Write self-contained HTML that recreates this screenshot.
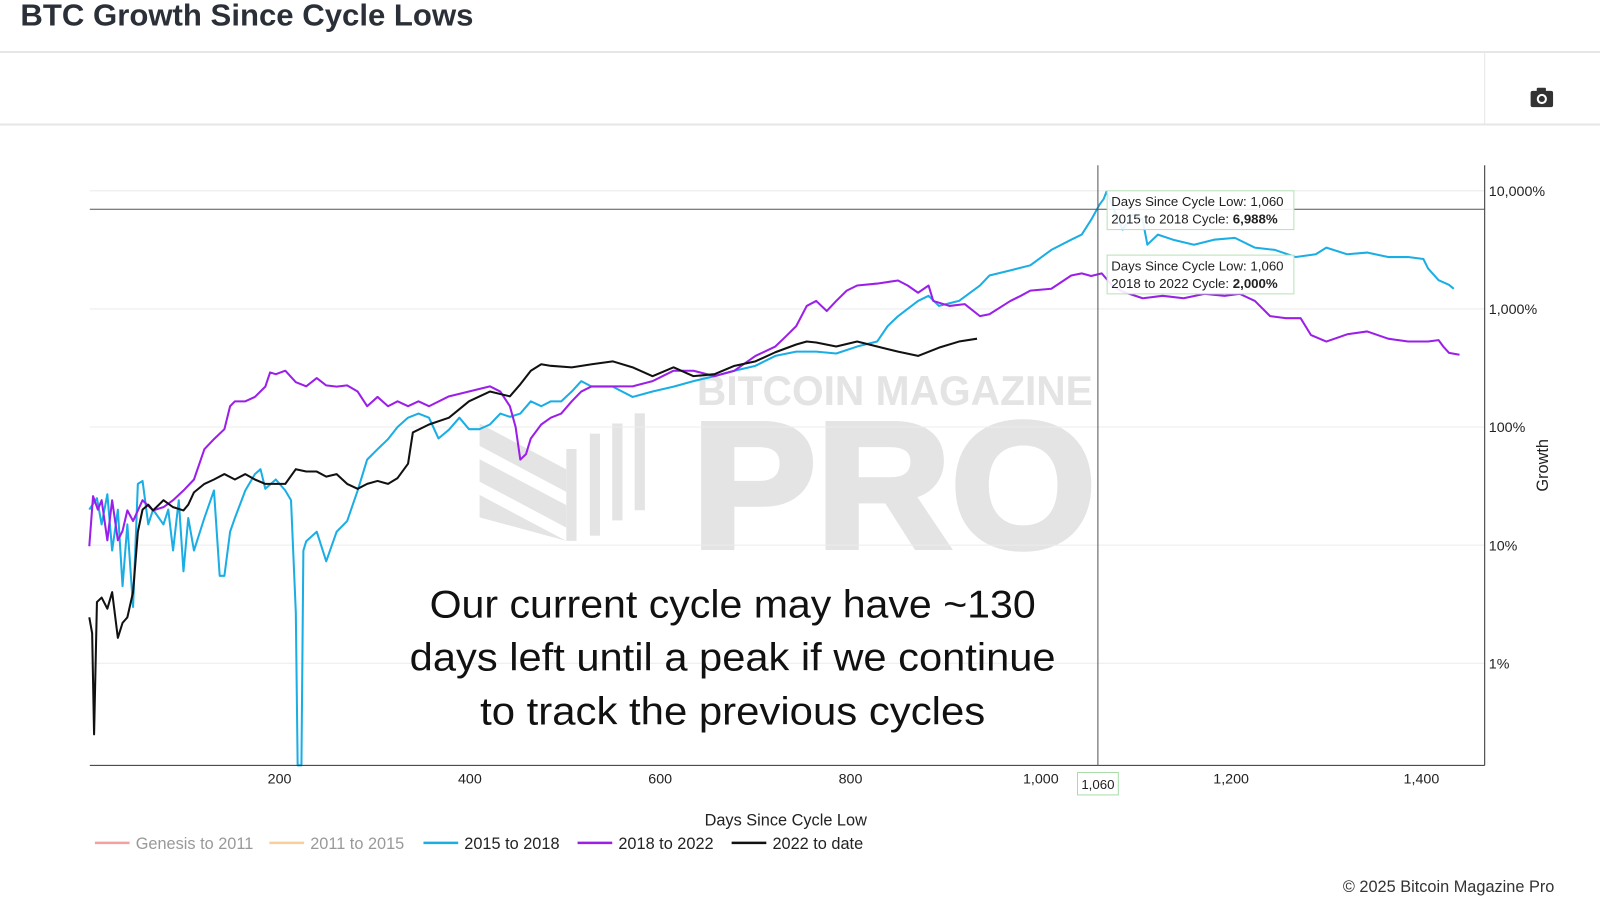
<!DOCTYPE html>
<html><head><meta charset="utf-8"><style>
body{margin:0;background:#fff;width:1600px;height:899px;overflow:hidden;font-family:"Liberation Sans",sans-serif}
</style></head><body>
<svg id="s" width="1600" height="899" viewBox="0 0 1568 881" preserveAspectRatio="none" xmlns="http://www.w3.org/2000/svg" style="position:absolute;left:0;top:0" font-family="Liberation Sans, sans-serif">
<text x="20" y="25" font-size="30" font-weight="bold" fill="#2b3038" textLength="444" lengthAdjust="spacingAndGlyphs">BTC Growth Since Cycle Lows</text>
<line x1="0" y1="51" x2="1568" y2="51" stroke="#e6e6e6" stroke-width="2"/>
<line x1="0" y1="122" x2="1568" y2="122" stroke="#e6e6e6" stroke-width="2"/>
<line x1="1455" y1="51" x2="1455" y2="122" stroke="#e6e6e6" stroke-width="1"/>
<g fill="#333">
<rect x="1500" y="89" width="22" height="16" rx="2"/><rect x="1506" y="86" width="9" height="5" rx="1"/>
<circle cx="1511" cy="97" r="5" fill="#fff"/><circle cx="1511" cy="97" r="3"/>
</g>
<g fill="#e4e4e4">
<text x="683" y="397" font-size="41" font-weight="bold" textLength="388" lengthAdjust="spacingAndGlyphs">BITCOIN MAGAZINE</text>
<text x="678" y="536" font-size="175" font-weight="bold" textLength="396" lengthAdjust="spacingAndGlyphs" stroke="#e4e4e4" stroke-width="6">PRO</text>
<polygon points="470,415 555,460 555,482 470,437"/><polygon points="470,450 555,495 555,517 470,472"/><polygon points="470,485 555,530 555,530 470,507"/>
<rect x="555" y="440" width="10" height="90"/><rect x="578" y="425" width="10" height="100"/><rect x="600" y="415" width="10" height="95"/><rect x="622" y="405" width="10" height="95"/>
</g>
<g id="grid"></g>
<g id="series"></g>
<g id="axes"></g>
<g font-size="38" fill="#111" text-anchor="middle">
<text x="718" y="605" textLength="594" lengthAdjust="spacingAndGlyphs">Our current cycle may have ~130</text>
<text x="718" y="657" textLength="633" lengthAdjust="spacingAndGlyphs">days left until a peak if we continue</text>
<text x="718" y="710" textLength="495" lengthAdjust="spacingAndGlyphs">to track the previous cycles</text>
</g>
<text x="770" y="809" font-size="16" fill="#222" text-anchor="middle">Days Since Cycle Low</text>
<text transform="translate(1517,456) rotate(-90)" font-size="16" fill="#222" text-anchor="middle">Growth</text>
<g id="legend" font-size="16"></g>
<text x="1316" y="874" font-size="16" fill="#333">© 2025 Bitcoin Magazine Pro</text>
</svg>
<script>
const cyanDays=[0,8,13,19,24,30,35,40,46,51,56,62,67,78,83,88,94,99,104,110,121,131,137,142,148,153,164,174,180,185,196,206,212,217,219,223,225,228,239,249,260,271,282,292,303,314,324,335,346,357,367,378,389,399,410,421,432,442,453,464,475,485,496,507,517,528,550,571,592,614,635,657,678,700,721,743,764,785,807,828,839,850,871,882,893,914,936,946,968,989,1011,1032,1043,1053,1062,1066,1069,1086,1096,1107,1112,1123,1139,1161,1182,1204,1225,1246,1268,1289,1300,1322,1343,1365,1386,1402,1407,1418,1429,1434];
const cyanVals=[20,25,15,27,9,20,4.5,15,3,33,35,15,20,15,20,9,24,6,17,9,17,29,5.5,5.5,13,17,29,40,44,30,36,29,24,2.7,0.1,0.1,9,10.8,13,7.3,13,16,29,53,65,79,100,120,130,120,80,95,120,96,96,105,130,122,130,165,150,165,165,200,245,220,220,180,200,220,245,270,300,330,400,435,435,420,480,530,715,870,1170,1290,1060,1170,1580,1920,2120,2340,3160,3860,4260,5700,7700,8500,9800,4700,6300,5700,3500,4260,3860,3500,3860,4000,3300,3160,2750,2900,3300,2900,3000,2750,2750,2650,2200,1750,1600,1480];
const purpleDays=[0,4,9,13,19,24,30,35,40,46,56,67,78,88,99,110,121,131,142,148,153,164,174,185,190,196,206,217,228,239,249,260,271,282,292,303,314,324,335,346,357,378,399,421,432,442,448,453,459,464,475,485,496,507,517,528,550,571,592,614,635,657,678,700,721,732,743,754,764,775,785,796,807,828,850,860,871,882,887,904,920,936,946,968,979,989,1011,1032,1043,1053,1064,1075,1086,1107,1128,1150,1172,1193,1209,1225,1241,1257,1273,1284,1300,1322,1343,1365,1386,1407,1418,1423,1429,1440];
const purpleVals=[9.8,26,20,24,11,24,11,13.2,19.7,16,24,19.7,21,24,29,36,65,79,96,150,165,165,180,220,290,280,300,240,221,260,225,220,225,200,150,180,150,165,150,165,150,182,200,221,200,150,100,53,59,80,105,120,130,165,200,221,221,221,245,300,300,270,300,400,480,585,715,1060,1170,960,1170,1430,1580,1640,1740,1580,1370,1580,1170,1060,1100,870,900,1170,1290,1430,1480,1920,2000,1900,2000,1580,1400,1230,1290,1230,1340,1290,1340,1170,870,835,835,600,530,610,645,560,530,530,545,480,425,410];
const blackDays=[0,3,5,8,13,19,24,30,35,40,46,51,56,62,67,78,88,99,104,110,121,131,142,153,164,174,185,196,206,217,228,239,249,260,271,282,292,303,314,324,335,340,357,378,399,421,442,453,464,475,485,507,528,550,571,592,614,635,657,678,700,721,743,754,764,785,807,828,850,871,893,914,933];
const blackVals=[2.45,1.8,0.25,3.3,3.6,2.9,4,1.64,2.2,2.45,4,13,20,22,19.7,24,21,19.7,22,28,33,36,40,36,40,36,33,33,33,44,42,42,38,40,33,30,33,35,33,37,49,90,105,120,165,200,182,230,300,340,330,320,340,360,320,270,320,270,280,330,360,430,500,530,520,480,530,480,435,400,470,530,560];
const xTicks=[200,400,600,800,1000,1200,1400];
const xTickLabels=["200","400","600","800","1,000","1,200","1,400"];
const yTicks=[1,10,100,1000,10000];
const yTickLabels=["1%","10%","100%","1,000%","10,000%"];
const hoverDay=1060, hoverVal=6988, hoverVal2=2000;

const L=88,R=1455,T=162,B=750;
const x=d=>87.5+d*0.9325;
const y=v=>650-Math.log10(v)*115.75;
const NS="http://www.w3.org/2000/svg";
function mk(tag,attrs,parent){const e=document.createElementNS(NS,tag);for(const k in attrs)e.setAttribute(k,attrs[k]);document.getElementById(parent).appendChild(e);return e;}
yTicks.forEach((v,i)=>{
 const g=mk('line',{x1:L,x2:R,y1:y(v),y2:y(v),stroke:'#ececec','stroke-width':1},'grid');
 
 
 const t=mk('text',{x:1459,y:y(v)+5,'font-size':14,fill:'#222'},'axes');t.textContent=yTickLabels[i];
 
 
});
xTicks.forEach((d,i)=>{
 const t=mk('text',{x:x(d),y:768,'font-size':14,fill:'#222','text-anchor':'middle'},'axes');t.textContent=xTickLabels[i];
 
 
});
function series(days,vals,color,name){
 const p=days.map((d,i)=>(i?'L':'M')+x(d).toFixed(1)+','+Math.min(B,y(vals[i])).toFixed(1)).join('');
 const e=mk('path',{d:p,fill:'none',stroke:color,'stroke-width':2,'stroke-linejoin':'round'},'series');
 
 
}
series(cyanDays,cyanVals,'#1aaee5','line-2015-to-2018');
series(purpleDays,purpleVals,'#9b1fe8','line-2018-to-2022');
series(blackDays,blackVals,'#111','line-2022-to-date');
let a=mk('line',{x1:L,x2:R,y1:B,y2:B,stroke:'#333','stroke-width':1},'axes');


a=mk('line',{x1:R,x2:R,y1:T,y2:B,stroke:'#333','stroke-width':1},'axes');


a=mk('line',{x1:x(hoverDay),x2:x(hoverDay),y1:T,y2:B,stroke:'#555','stroke-width':1},'axes');


a=mk('line',{x1:L,x2:R,y1:y(hoverVal),y2:y(hoverVal),stroke:'#555','stroke-width':1},'axes');


a=mk('rect',{x:x(hoverDay)-20,y:757,width:40,height:22,fill:'#fff',stroke:'#a8dca8'},'axes');


a=mk('text',{x:x(hoverDay),y:773,'font-size':13,fill:'#222','text-anchor':'middle'},'axes');a.textContent='1,060';


function tip(ty,l1,l2,bold,name){
 const r=mk('rect',{x:1085,y:ty,width:183,height:38,fill:'#fff','fill-opacity':0.9,stroke:'#b8e2b8'},'axes');
 
 
 let t=mk('text',{x:1089,y:ty+15,'font-size':13,fill:'#222'},'axes');t.textContent=l1;
 
 
 t=mk('text',{x:1089,y:ty+32,'font-size':13,fill:'#222'},'axes');t.textContent=l2;
 const b=document.createElementNS(NS,'tspan');b.setAttribute('font-weight','bold');b.textContent=bold;t.appendChild(b);
 
 
}
tip(187,'Days Since Cycle Low: 1,060','2015 to 2018 Cycle: ','6,988%','tooltip-2015-to-2018');
tip(250,'Days Since Cycle Low: 1,060','2018 to 2022 Cycle: ','2,000%','tooltip-2018-to-2022');
const legNames=["Genesis to 2011","2011 to 2015","2015 to 2018","2018 to 2022","2022 to date"];
const legColors=["#f4a0a0","#f8cf9a","#1aaee5","#9b1fe8","#111"];
const legX=[93,264,415,566,717];
legNames.forEach((n,i)=>{
 const l=mk('line',{x1:legX[i],x2:legX[i]+34,y1:826,y2:826,stroke:legColors[i],'stroke-width':2.5},'legend');
 
 
 const t=mk('text',{x:legX[i]+40,y:832,fill:i<2?'#999':'#222'},'legend');t.textContent=n;
 
 
});
</script>
</body></html>
